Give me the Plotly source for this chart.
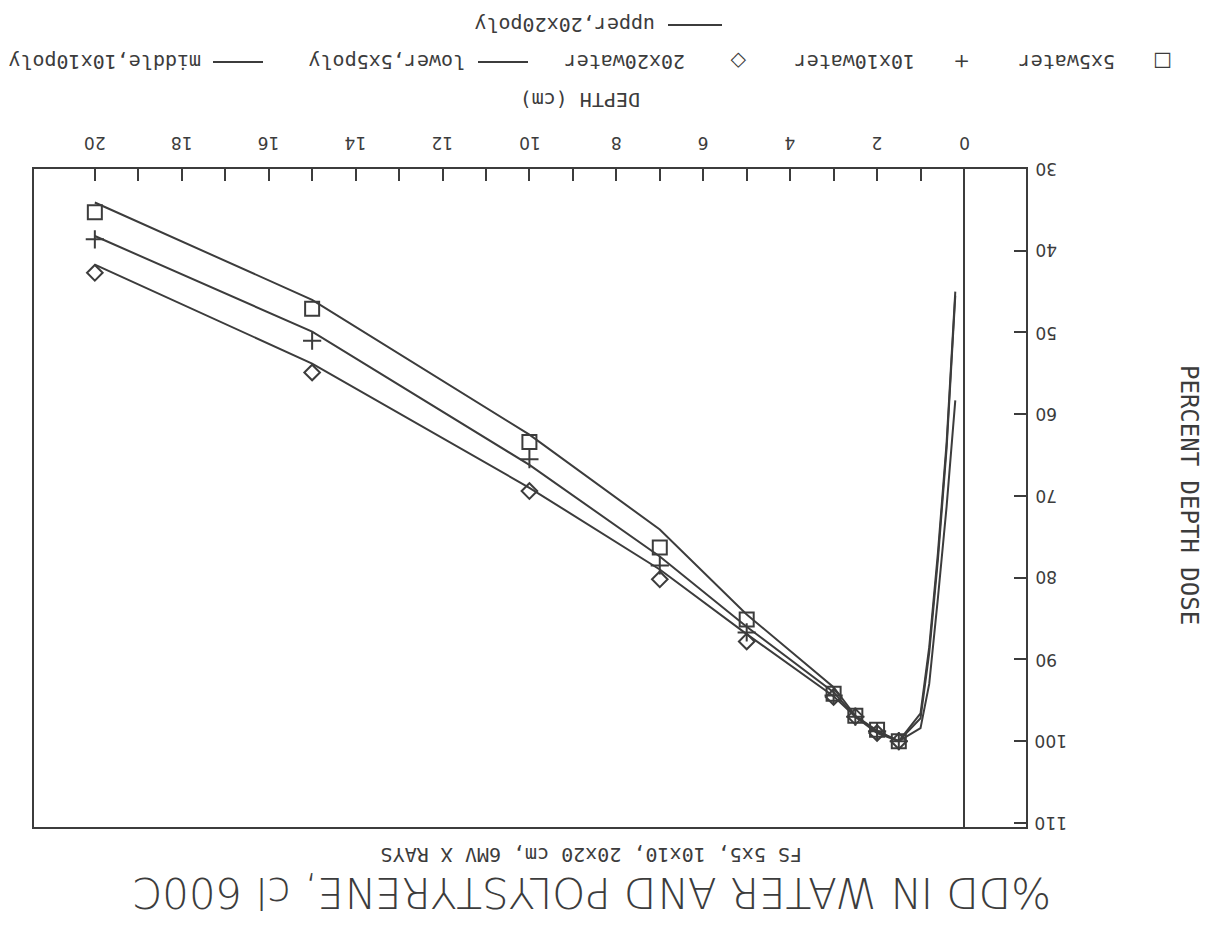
import plotly.graph_objects as go

# ---------------- data ----------------
depth_water = [1.5, 2.0, 2.5, 3.0, 5.0, 7.0, 10.0, 15.0, 20.0]
pdd_5x5_water = [100.0, 98.6, 96.9, 94.2, 85.1, 76.3, 63.4, 47.1, 35.3]
pdd_10x10_water = [100.0, 98.8, 97.0, 94.4, 86.7, 78.5, 65.5, 51.0, 38.6]
pdd_20x20_water = [100.0, 99.0, 97.0, 94.6, 87.8, 80.2, 69.4, 54.9, 42.7]

depth_poly = [0.2, 0.4, 0.6, 0.8, 1.0, 1.5, 2.0, 2.5, 3.0, 5.0, 7.0, 10.0, 15.0, 20.0]
pdd_5x5_poly = [45.0, 63.5, 77.0, 88.5, 96.6, 100.0, 98.7, 96.9, 93.4, 84.5, 74.1, 62.5, 46.0, 34.1]
pdd_10x10_poly = [45.5, 64.2, 77.8, 89.2, 97.2, 100.0, 98.8, 97.0, 94.0, 86.0, 77.4, 66.2, 49.9, 38.2]
pdd_20x20_poly = [58.3, 71.3, 82.5, 93.0, 98.4, 100.0, 99.0, 97.0, 94.5, 86.9, 79.0, 69.0, 53.8, 41.7]

x_tick_vals = list(range(0, 21))
x_label_vals = [0, 2, 4, 6, 8, 10, 12, 14, 16, 18, 20]
y_tick_vals = [30, 40, 50, 60, 70, 80, 90, 100, 110]

title_text = "%DD IN WATER AND POLYSTYRENE, cl 600C"
subtitle_text = "FS 5x5, 10x10, 20x20 cm, 6MV X RAYS"
x_title = "DEPTH (cm)"
y_title = "PERCENT DEPTH DOSE"
legend_marks = ["□", "+", "◇"]
legend_water = ["5x5water", "10x10water", "20x20water"]
legend_poly = ["lower,5x5poly", "middle,10x10poly", "upper,20x20poly"]

# ---------------- styling ----------------
W, H = 1215, 931
L, R, T, B = 34, 1026, 169, 827
INK = "#3c3c3c"
MONO = "DejaVu Sans Mono"
SANS = "DejaVu Sans"
THIN = "DejaVu Sans ExtraLight, DejaVu Sans"


def px(xp):
    return (xp - L) / (R - L)


def py(yp):
    return (B - yp) / (B - T)


fig = go.Figure()

for yv in (pdd_5x5_poly, pdd_10x10_poly, pdd_20x20_poly):
    fig.add_trace(go.Scatter(x=depth_poly, y=yv, mode="lines",
                             line=dict(color=INK, width=2), showlegend=False,
                             hoverinfo="skip"))

for yv, sym, sz in ((pdd_5x5_water, "square-open", 14),
                    (pdd_10x10_water, "cross-thin-open", 13),
                    (pdd_20x20_water, "diamond-open", 12)):
    fig.add_trace(go.Scatter(x=depth_water, y=yv, mode="markers",
                             marker=dict(symbol=sym, size=sz, color=INK,
                                         line=dict(color=INK, width=2)),
                             showlegend=False))

annotations = []


def text(s, xp, yp, size, family=MONO, angle=180, weight=None, xanchor="center"):
    f = dict(family=family, size=size, color=INK)
    if weight:
        f["weight"] = weight
    annotations.append(dict(text=s, x=px(xp), y=py(yp), xref="paper", yref="paper",
                            showarrow=False, textangle=angle,
                            xanchor=xanchor, yanchor="middle", font=f))


text(title_text, 592, 893, 42, family=THIN, weight=200)
text(subtitle_text, 592, 855, 20)
text(x_title, 580, 100, 20)
text(y_title, 1189, 495, 24, angle=90)

# tick labels (upside down, as in the reference)
for v in x_label_vals:
    annotations.append(dict(text=str(v), x=v, y=py(143), xref="x", yref="paper",
                            showarrow=False, textangle=180,
                            xanchor="center", yanchor="middle",
                            font=dict(family=SANS, size=17, color=INK)))
for v in y_tick_vals:
    annotations.append(dict(text=str(v), x=px(1033), y=v, xref="paper", yref="y",
                            showarrow=False, textangle=180,
                            xanchor="left", yanchor="middle",
                            font=dict(family=SANS, size=17, color=INK)))

# legend (drawn upside down, like the reference)
text(legend_marks[0], 1163, 62, 20, family=SANS)
text(legend_water[0], 1067, 62, 20)
text(legend_marks[1], 962, 62, 20, family=SANS)
text(legend_water[1], 855, 62, 20)
text(legend_marks[2], 738, 62, 20, family=SANS)
text(legend_water[2], 625, 62, 20)
text(legend_poly[0], 387, 62, 20)
text(legend_poly[1], 105, 62, 20)
text(legend_poly[2], 565, 25, 20)

shapes = []
for x0, x1, yy in ((478, 528, 62), (213, 263, 62), (668, 722, 25)):
    shapes.append(dict(type="line", xref="paper", yref="paper",
                       x0=px(x0), x1=px(x1), y0=py(yy), y1=py(yy),
                       line=dict(color=INK, width=2)))

fig.update_layout(
    width=W, height=H,
    margin=dict(l=L, r=W - R, t=T, b=H - B),
    paper_bgcolor="white", plot_bgcolor="white",
    showlegend=False,
    annotations=annotations,
    shapes=shapes,
    xaxis=dict(side="top", range=[21.40, -1.427], tickmode="array",
               tickvals=x_tick_vals, showticklabels=False,
               ticks="inside", ticklen=12, tickwidth=2, tickcolor=INK,
               showgrid=False, zeroline=True, zerolinecolor=INK, zerolinewidth=2,
               showline=True, linecolor=INK, linewidth=2, mirror=True),
    yaxis=dict(side="right", range=[110.5, 30], tickmode="array",
               tickvals=y_tick_vals, showticklabels=False,
               ticks="inside", ticklen=12, tickwidth=2, tickcolor=INK,
               showgrid=False, zeroline=False,
               showline=True, linecolor=INK, linewidth=2, mirror=True),
)

fig.write_html("out.html")
